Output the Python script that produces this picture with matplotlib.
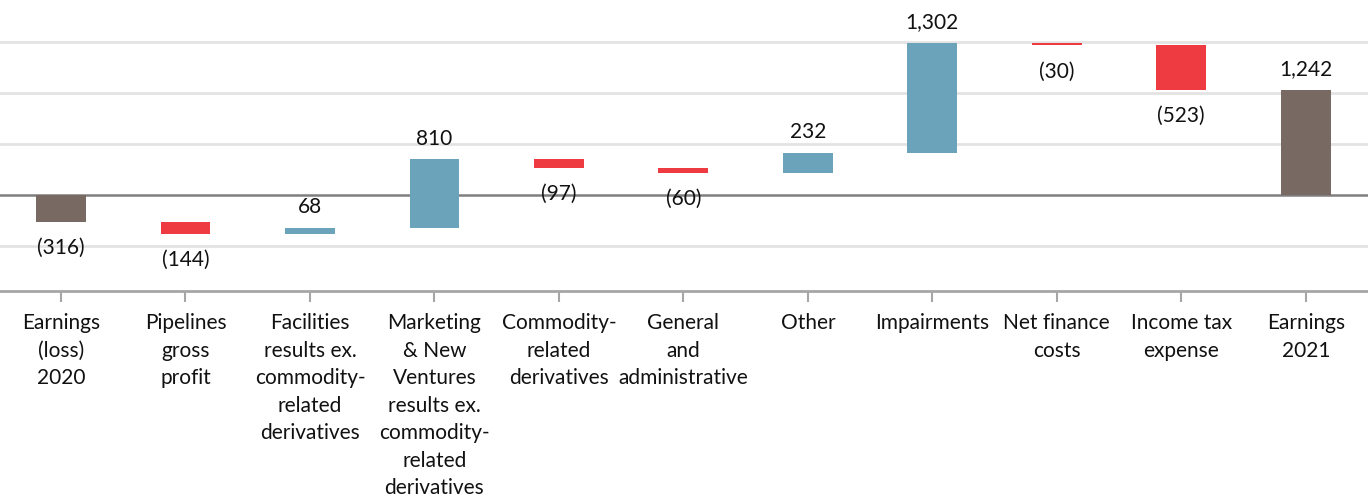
import numpy as np
import matplotlib.pyplot as plt

# Categories and values (millions)
categories = ["Earnings\n(loss)\n2020", "Pipelines\ngross\nprofit",
              "Facilities\nresults ex.\ncommodity-\nrelated\nderivatives",
              "Marketing\n& New\nVentures\nresults ex.\ncommodity-\nrelated\nderivatives",
              "Commodity-\nrelated\nderivatives", "General\nand\nadministrative",
              "Other", "Impairments", "Net finance\ncosts", "Income tax\nexpense",
              "Earnings\n2021"]
values = [-316, -144, 68, 810, -97, -60, 232, 1302, -30, -523, 1242]
is_total = [True, False, False, False, False, False, False, False, False, False, True]

c_total = "#786962"
c_up = "#6ba3bb"
c_down = "#ee3b42"

plt.rcParams['font.family'] = ['Lato', 'DejaVu Sans']

fig = plt.figure(figsize=(13.68, 5.0), dpi=100)
ax = fig.add_axes([0, 0.418, 1, 0.582])

x = np.arange(len(categories))
bottoms = []
heights = []
colors = []
running = 0
for v, tot in zip(values, is_total):
    if tot:
        bottoms.append(0)
        heights.append(v)
        colors.append(c_total)
        running = v
    else:
        bottoms.append(running)
        heights.append(v)
        colors.append(c_up if v > 0 else c_down)
        running += v

ax.bar(x, heights, bottom=bottoms, width=0.4, color=colors, zorder=3)

# value labels
for xi, b, h in zip(x, bottoms, heights):
    if h >= 0:
        txt = f"{h:,}"
        ax.annotate(txt, (xi, b + h), xytext=(0, 15), textcoords="offset points",
                    ha="center", va="center", fontsize=15, color="#111111", zorder=4)
    else:
        txt = f"({-h:,})"
        ax.annotate(txt, (xi, b + h), xytext=(0, -19), textcoords="offset points",
                    ha="center", va="center", fontsize=15, color="#111111", zorder=4)

ax.set_xlim(-0.49, 10.5)
ax.set_ylim(-1135, 2300)
ax.set_yticks([-600, 600, 1200, 1800])
ax.yaxis.grid(True, color="#e3e3e3", linewidth=2, zorder=0)
ax.axhline(0, color="#7f7f7f", linewidth=1.8, zorder=2)
ax.tick_params(axis="y", left=False, labelleft=False)

ax.set_xticks(x)
ax.set_xticklabels(categories, fontsize=15, linespacing=1.47, color="#111111")
ax.tick_params(axis="x", length=8, width=1.5, color="#a6a6a6", pad=8)

for s in ["top", "left", "right"]:
    ax.spines[s].set_visible(False)
ax.spines["bottom"].set_color("#a6a6a6")
ax.spines["bottom"].set_linewidth(2)

fig.savefig("out.png", dpi=100)
